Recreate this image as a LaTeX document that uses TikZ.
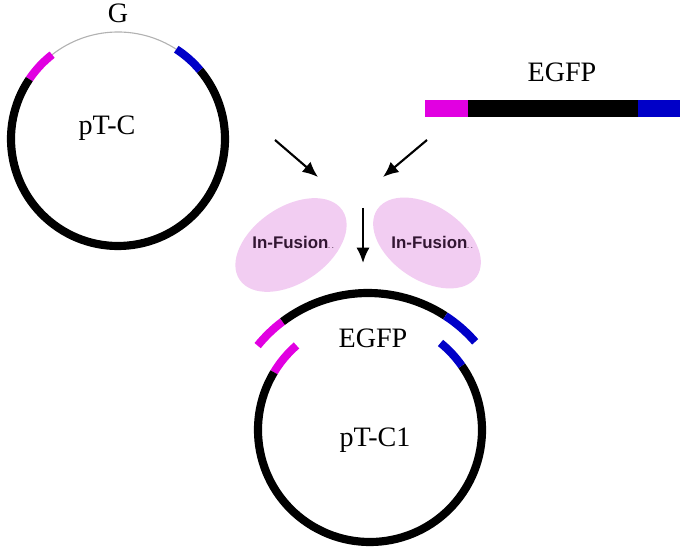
\documentclass[tikz,border=0pt]{standalone}
\usepackage{fontspec}
\setmainfont{Liberation Serif}
\newfontfamily\enzfont{Liberation Sans}
\usepackage{xcolor}
\usetikzlibrary{arrows.meta,positioning}

\definecolor{vecmag}{RGB}{225,0,225}
\definecolor{vecblue}{RGB}{0,0,200}
\definecolor{enzpink}{RGB}{242,205,242}
\definecolor{enztext}{RGB}{50,22,50}

\begin{document}
\begin{tikzpicture}[
    x=0.025cm,
    y=0.025cm,
    >=Latex,
    every node/.style={font=\fontsize{20}{24}\selectfont},
    dna/.style={line width=5.8pt},
    stepto/.style={->,line width=1.5pt,>={Latex[length=11pt,width=9.5pt]}},
    enzlabel/.style={font=\enzfont\bfseries\fontsize{12}{14}\selectfont,text=enztext}
]

\useasboundingbox (0,0) rectangle (685,551);

% ---------------------------------------------------------
% Vector pT-C
% ---------------------------------------------------------

\coordinate (cenA) at (118,412);

\draw[gray!60,line width=0.8pt]
    (cenA) ++(57:107) arc[start angle=57,end angle=128,radius=107];

\foreach \aa/\bb/\cc in {
    128/146/vecmag,
    146/400/black,
    40/57/vecblue}{
    \draw[dna,\cc]
        (cenA) ++(\aa:107) arc[start angle=\aa,end angle=\bb,radius=107];
}

\node (gap) at (118,538) {G};
\node (vecA) at (107,423) {pT-C};

% ---------------------------------------------------------
% Insert EGFP
% ---------------------------------------------------------

\fill[vecmag]  (425,434) rectangle (468,451);
\fill[black]   (468,434) rectangle (638,451);
\fill[vecblue] (638,434) rectangle (680,451);

\node (ins) at (562,479) {EGFP};

% ---------------------------------------------------------
% Arrows
% ---------------------------------------------------------

\coordinate (fromA) at (275,411);
\coordinate (fromB) at (427,411);
\coordinate (intoA) at (318,374);
\coordinate (intoB) at (383,374);
\coordinate (mixtop) at (363,343);
\coordinate (mixbot) at (363,288);

\draw[stepto] (fromA) -- (intoA);
\draw[stepto] (fromB) -- (intoB);
\draw[stepto] (mixtop) -- (mixbot);

% ---------------------------------------------------------
% In-Fusion enzyme
% ---------------------------------------------------------

\fill[enzpink,rotate around={34:(291,306)}]
    (291,306) ellipse[x radius=62,y radius=38];
\fill[enzpink,rotate around={-34:(427,308)}]
    (427,308) ellipse[x radius=60,y radius=37];

\node[enzlabel] (enzA) at (293,309)
    {In-Fusion\raisebox{0pt}{\fontsize{4}{5}\selectfont . .}};
\node[enzlabel] (enzB) at (432,309)
    {In-Fusion\raisebox{0pt}{\fontsize{4}{5}\selectfont . .}};

% ---------------------------------------------------------
% Vector pT-C1
% ---------------------------------------------------------

\coordinate (cenB) at (370,121);
\coordinate (cenC) at (368,116);

% inserted arc
\foreach \aa/\bb/\cc in {
    127/141/vecmag,
    57/127/black,
    41/57/vecblue}{
    \draw[dna,\cc]
        (cenC) ++(\aa:142) arc[start angle=\aa,end angle=\bb,radius=142];
}

% opened vector
\foreach \aa/\bb/\cc in {
    131/149/vecmag,
    149/395/black,
    35/51/vecblue}{
    \draw[dna,\cc]
        (cenB) ++(\aa:112) arc[start angle=\aa,end angle=\bb,radius=112];
}

\node (insB) at (373,213) {EGFP};
\node (vecB) at (375,111) {pT-C1};

\end{tikzpicture}
\end{document}
